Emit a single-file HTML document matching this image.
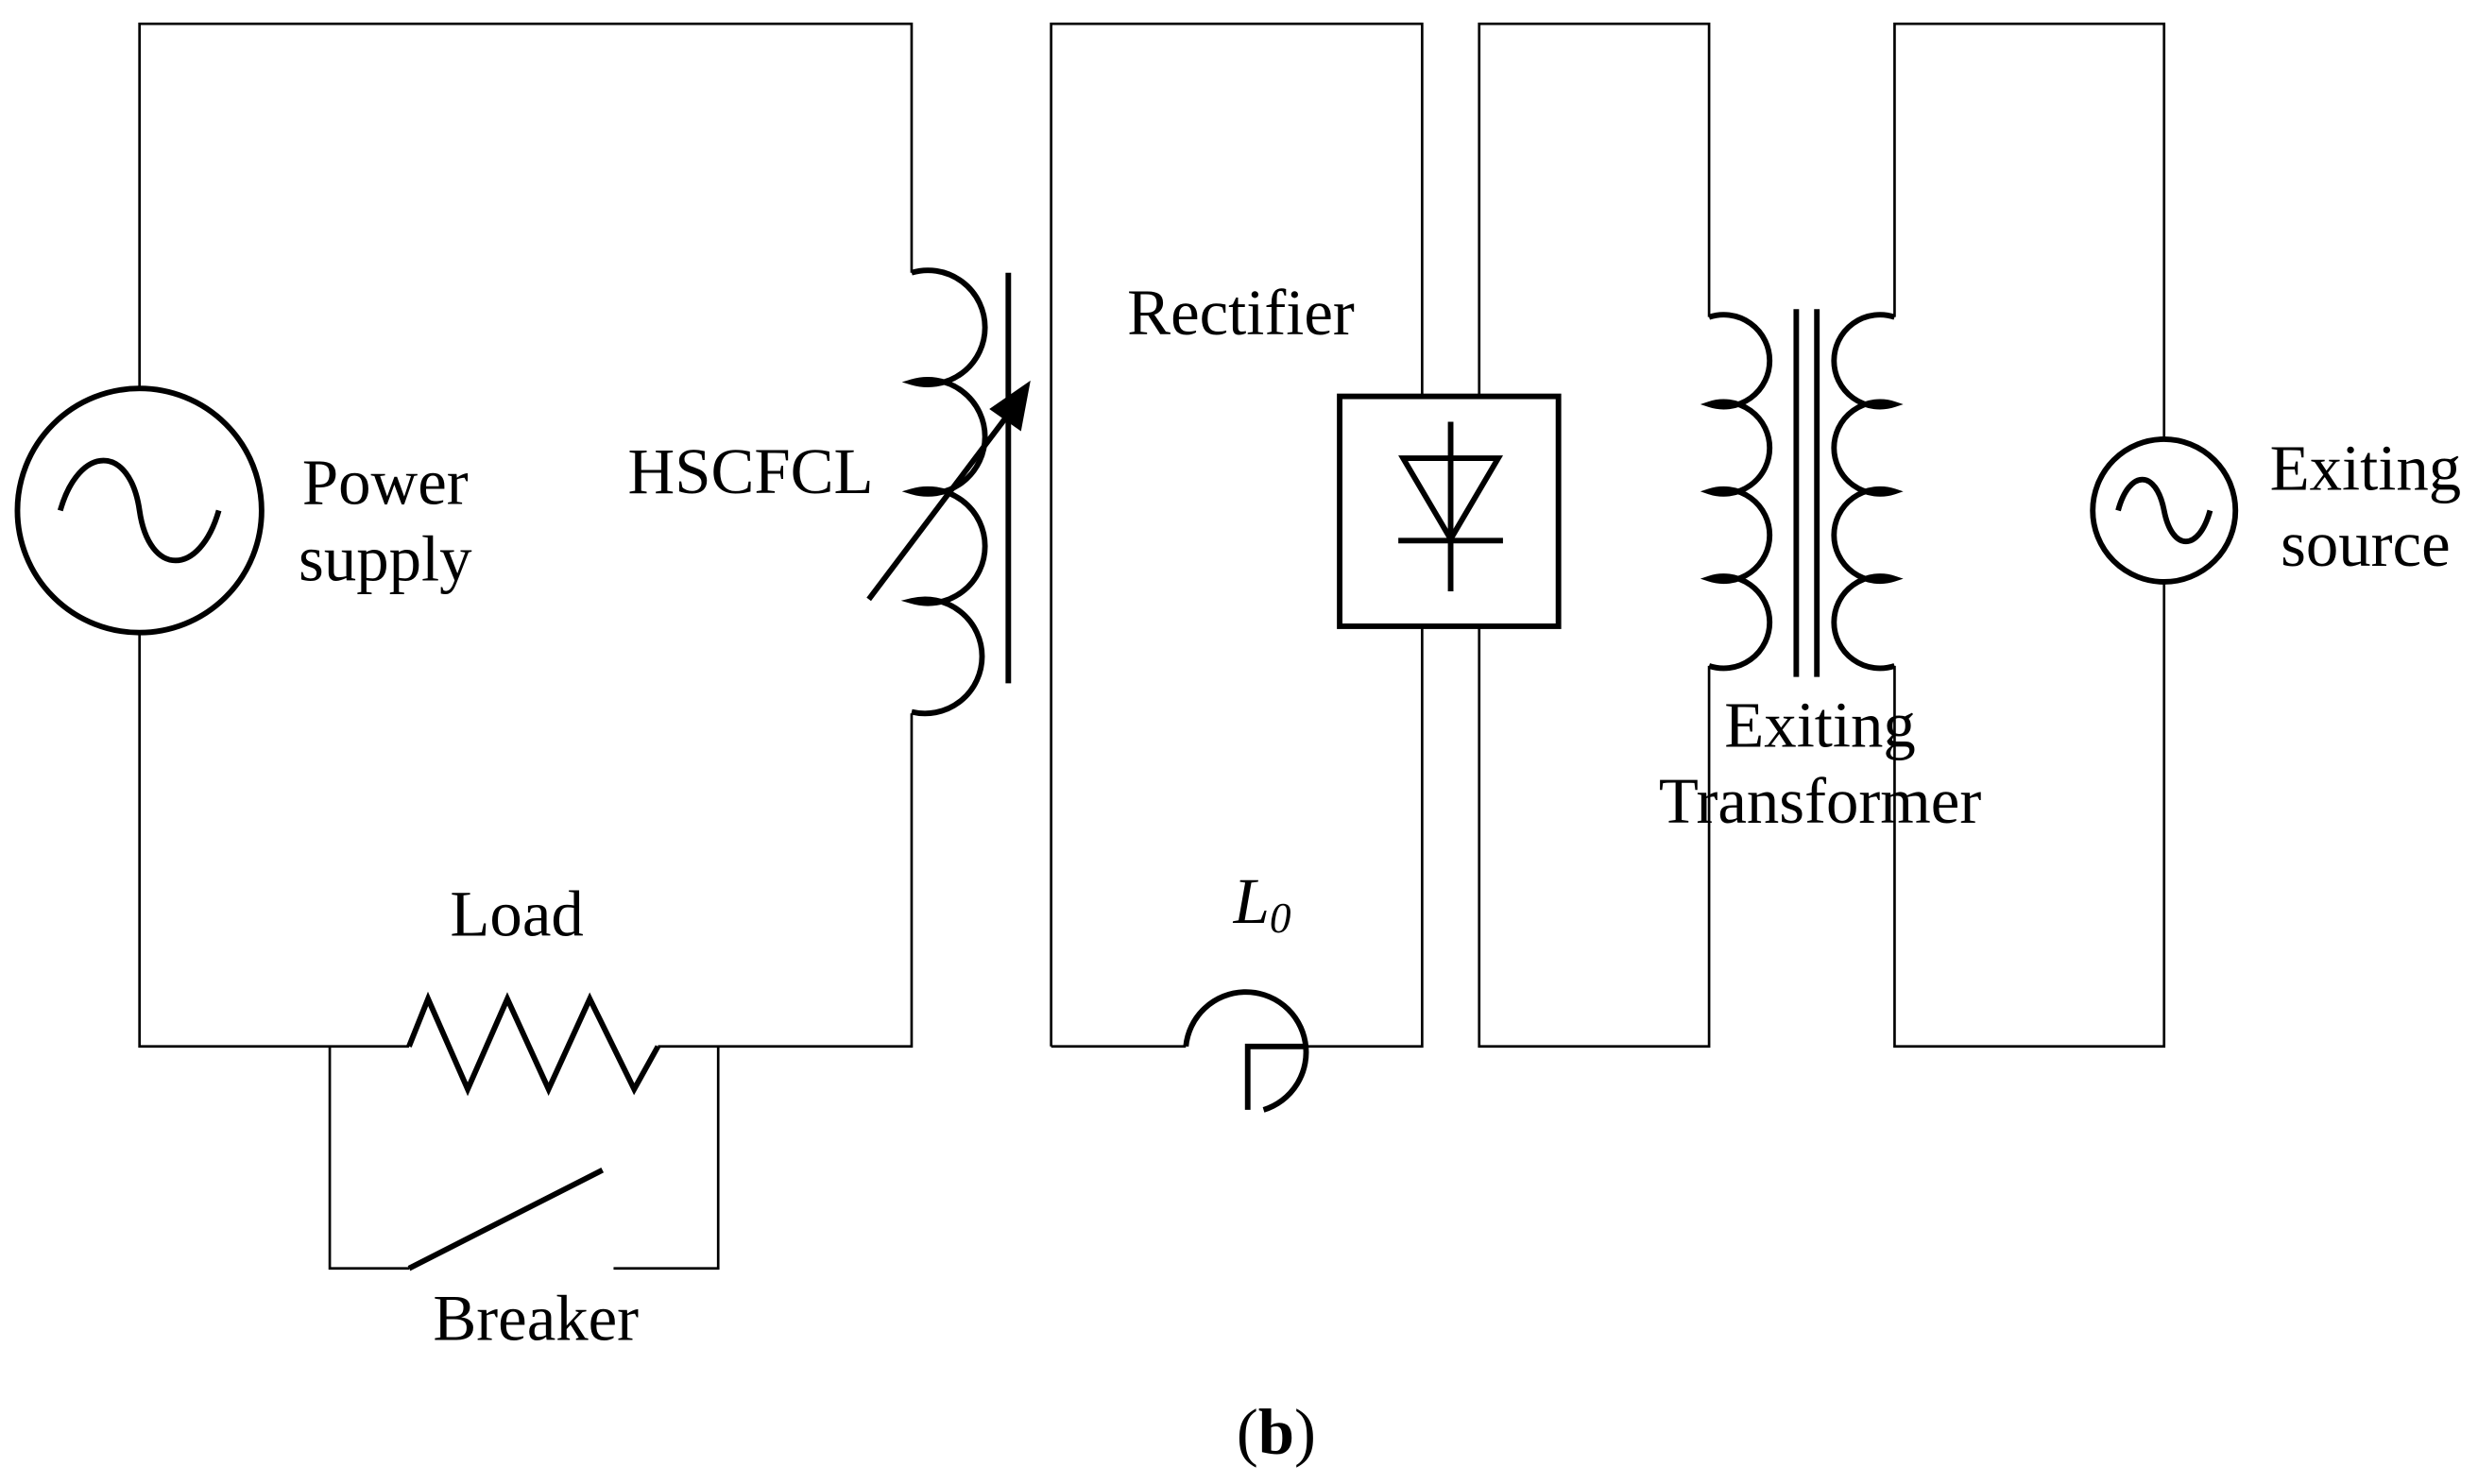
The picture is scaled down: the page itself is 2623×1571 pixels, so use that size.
<!DOCTYPE html>
<html><head><meta charset="utf-8"><style>
html,body{margin:0;padding:0;background:#fff}
svg{display:block}
text{font-family:"Liberation Serif",serif;fill:#000}
</style></head><body>
<svg width="2623" height="1571" viewBox="0 0 1563 936" preserveAspectRatio="none" xmlns="http://www.w3.org/2000/svg">
<g fill="none" stroke="#000" stroke-width="1.6">
<path d="M88,245 V15 H575 V172"/>
<path d="M88,399 V660 H258"/>
<path d="M415,660 H575 V450"/>
<path d="M208,660 V800 H258"/>
<path d="M387,800 H453 V660"/>
<path d="M663,660 V15 H897 V250"/>
<path d="M897,395 V660 H825"/>
<path d="M663,660 H748"/>
<path d="M933,250 V15 H1078 V200"/>
<path d="M933,395 V660 H1078 V420"/>
<path d="M1195,200 V15 H1365 V277"/>
<path d="M1195,420 V660 H1365 V367"/>
</g>
<g fill="none" stroke="#000" stroke-width="3.5">
<circle cx="88" cy="322" r="77"/>
<path d="M38,322 C50,280 82,280 88,322 C94,364 126,364 138,322"/>
<circle cx="1365" cy="322" r="45"/>
<path d="M1336,322 C1343,296 1360,296 1365,322 C1370,348 1387,348 1394,322"/>
<path d="M575,172 a36,36 0 1 1 0,69 a36,36 0 1 1 0,69 a36,36 0 1 1 0,69 a36,36 0 1 1 0,70"/>
<line x1="636" y1="172" x2="636" y2="431"/>
<line x1="548" y1="378" x2="640" y2="256"/>
<path d="M258,660 L270,630 L295,687 L320,630 L346,687 L372,630 L400,687 L415,660"/>
<line x1="258" y1="800" x2="380" y2="738"/>
<rect x="845" y="250" width="138" height="145"/>
<path d="M885,289 H945 L915,340 Z"/>
<line x1="882" y1="341" x2="948" y2="341"/>
<line x1="915" y1="266" x2="915" y2="373"/>
<path d="M748,660 A38,38 0 1 1 797,700 M787,700 V660 H825"/>
<path d="M1078,200 a29,29 0 1 1 0,55 a29,29 0 1 1 0,55 a29,29 0 1 1 0,55 a29,29 0 1 1 0,55"/>
<path d="M1195,200 a29,29 0 1 0 0,55 a29,29 0 1 0 0,55 a29,29 0 1 0 0,55 a29,29 0 1 0 0,55"/>
<line x1="1133" y1="195" x2="1133" y2="427"/>
<line x1="1146" y1="195" x2="1146" y2="427"/>
</g>
<polygon points="650,240 624,258 644,272" fill="#000"/>
<g font-size="41">
<text x="243" y="318" text-anchor="middle">Power</text>
<text x="243" y="366" text-anchor="middle">supply</text>
<text x="396" y="311">HSCFCL</text>
<text x="711" y="211">Rectifier</text>
<text x="1492" y="309" text-anchor="middle">Exiting</text>
<text x="1492" y="357" text-anchor="middle">source</text>
<text x="1148" y="471" text-anchor="middle">Exiting</text>
<text x="1148" y="519" text-anchor="middle">Transformer</text>
<text x="326" y="590" text-anchor="middle">Load</text>
<text x="338" y="845" text-anchor="middle">Breaker</text>
<text x="778" y="582" font-style="italic">L<tspan font-size="27" dy="6">0</tspan></text>
<text x="805" y="917" text-anchor="middle">(<tspan font-weight="bold">b</tspan>)</text>
</g>
</svg>
</body></html>
